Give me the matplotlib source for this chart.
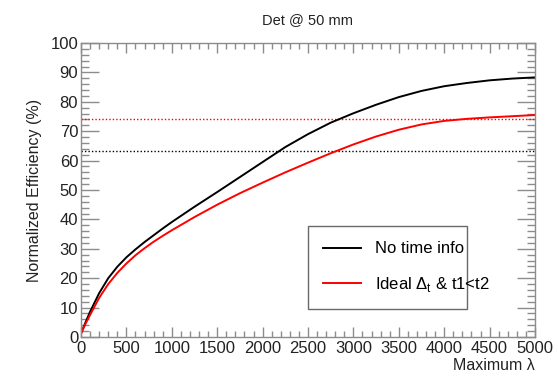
import numpy as np
import matplotlib
matplotlib.use("Agg")
import matplotlib.pyplot as plt
from matplotlib.ticker import MultipleLocator

plt.rcParams["font.family"] = ["Liberation Sans", "DejaVu Sans"]
plt.rcParams["mathtext.fontset"] = "custom"
plt.rcParams["mathtext.rm"] = "Liberation Sans"

# maximum lambda values where the curves were read
lam = [0, 50, 100, 200, 300, 400, 500, 600, 700, 800, 900, 1000,
       1250, 1500, 1750, 2000, 2250, 2500, 2750, 3000, 3250, 3500, 3750,
       4000, 4250, 4500, 4750, 5000]
eff_no_time = [1.2, 5.0, 8.6, 14.9, 20.0, 23.9, 27.1, 29.8, 32.3, 34.6, 36.9,
               39.1, 44.3, 49.3, 54.4, 59.5, 64.6, 69.0, 72.9, 76.1, 79.0,
               81.6, 83.7, 85.3, 86.4, 87.3, 87.9, 88.3]
eff_ideal = [1.2, 4.5, 7.5, 13.3, 18.0, 21.8, 25.0, 27.8, 30.2, 32.4, 34.4,
             36.3, 40.8, 45.0, 48.9, 52.5, 56.0, 59.3, 62.5, 65.5, 68.2,
             70.5, 72.3, 73.5, 74.2, 74.7, 75.1, 75.5]
ref_no_time = 63.3
ref_ideal = 74.0
labels = ["No time info", r"Ideal Δ$_{\mathrm{t}}$ & t1<t2"]

fig = plt.figure(figsize=(5.58, 3.84), dpi=100)
ax = fig.add_axes([81 / 558, 47 / 384, 454 / 558, 294 / 384])

ax.axhline(ref_ideal, color="red", ls=(0, (1, 1.5)), lw=1.0)
ax.axhline(ref_no_time, color="black", ls=(0, (1, 1.5)), lw=1.0)
ax.plot(lam, eff_no_time, color="black", lw=1.4, label=labels[0])
ax.plot(lam, eff_ideal, color="red", lw=1.4, label=labels[1])

ax.set_xlim(0, 5000)
ax.set_ylim(0, 100)
ax.xaxis.set_major_locator(MultipleLocator(500))
ax.xaxis.set_minor_locator(MultipleLocator(100))
ax.yaxis.set_major_locator(MultipleLocator(10))
ax.yaxis.set_minor_locator(MultipleLocator(2))

gray = "#8c8c8c"
for sp in ax.spines.values():
    sp.set_color(gray)
    sp.set_linewidth(1.0)
ax.tick_params(axis="both", which="both", direction="in", top=True, right=True,
               color=gray, labelsize=12, labelcolor="#222222")
ax.tick_params(axis="x", which="major", length=7, width=1.0, pad=3)
ax.tick_params(axis="x", which="minor", length=4, width=1.0)
ax.tick_params(axis="y", which="major", length=13, width=1.0, pad=2)
ax.tick_params(axis="y", which="minor", length=6, width=1.0)

ax.set_title("Det @ 50 mm", fontsize=10.5, color="#222222", pad=14)
ax.set_ylabel("Normalized Efficiency (%)", fontsize=11.5, color="#222222",
              labelpad=6)
ax.set_xlabel("Maximum λ", fontsize=11.5, color="#222222",
              loc="right", labelpad=1)

leg = ax.legend(loc="lower left", bbox_to_anchor=(0.482, 0.068, 0.386, 0.269),
                mode="expand", fontsize=12, frameon=True, fancybox=False,
                edgecolor="#444444", handlelength=2.3, borderpad=0.9,
                labelspacing=1.1, handletextpad=0.8)
leg.get_frame().set_linewidth(1.0)

fig.savefig("out.png", dpi=100)
